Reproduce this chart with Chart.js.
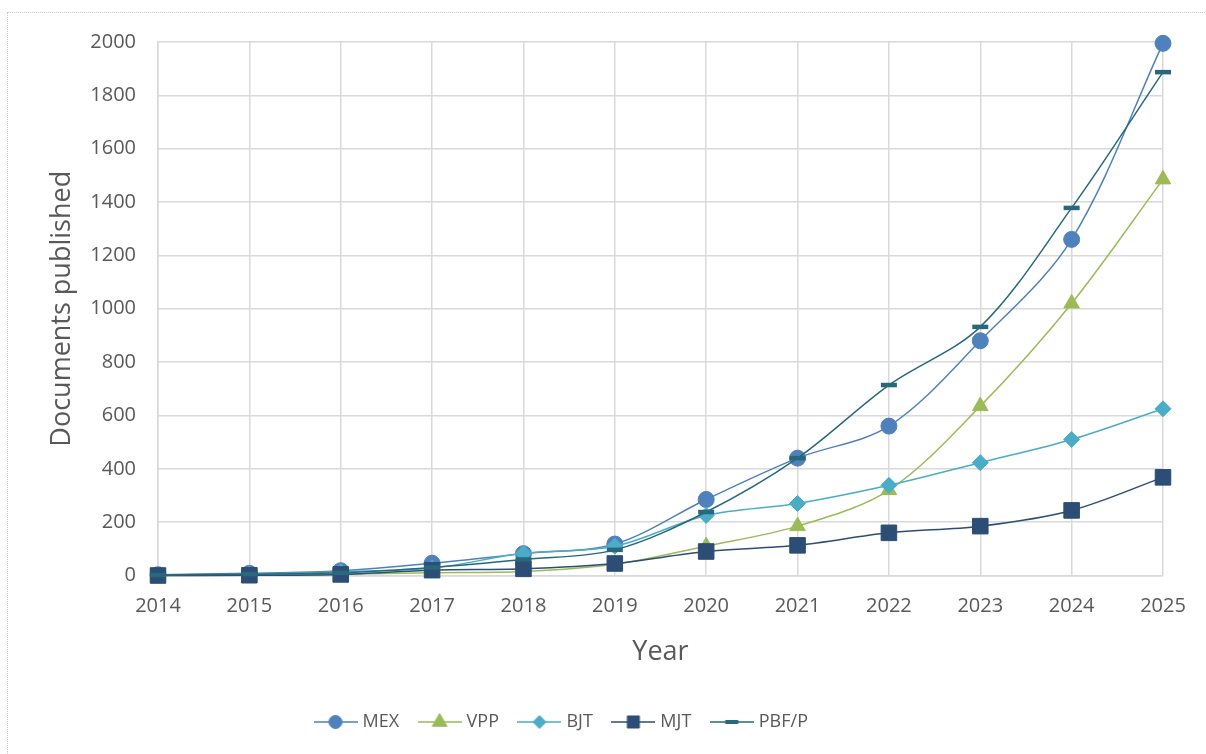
<!DOCTYPE html>
<html>
<head>
<meta charset="utf-8">
<script src="https://cdn.jsdelivr.net/npm/chart.js@4.4.1/dist/chart.umd.min.js"></script>
<style>
    html, body { margin: 0; padding: 0; background: #fff; overflow: hidden; }
    #wrap { position: relative; width: 1206px; height: 754px; }
    #frame {
        position: absolute; left: 7px; top: 12px; width: 1220px; height: 780px;
        border: 1px dotted #c9c9c9; pointer-events: none;
    }
    #chart { position: absolute; left: 0; top: 0; }
</style>
</head>
<body>
<div id="wrap">
    <div id="frame"></div>
    <canvas id="chart" width="1206" height="754"></canvas>
</div>
<script>
    const years = ['2014', '2015', '2016', '2017', '2018', '2019', '2020', '2021', '2022', '2023', '2024', '2025'];

    const mex = [3, 8, 18, 46, 82, 118, 285, 440, 560, 880, 1260, 1995];
    const vpp = [0, 2, 5, 10, 15, 42, 110, 185, 320, 635, 1020, 1485];
    const bjt = [2, 5, 14, 28, 83, 110, 225, 270, 338, 423, 510, 625];
    const mjt = [0, 1, 4, 20, 25, 45, 90, 113, 160, 185, 244, 368];
    const pbf = [2, 5, 10, 30, 60, 96, 238, 440, 714, 932, 1378, 1887];

    const yTicks = [0, 200, 400, 600, 800, 1000, 1200, 1400, 1600, 1800, 2000];

    const textColor = '#595959';
    const gridColor = '#d9d9d9';

    Chart.defaults.font.family = "'Open Sans', 'Noto Sans', sans-serif";
    Chart.defaults.color = textColor;

    // series look: colour, marker shape, marker size (chart / legend)
    const series = [
        { label: 'MEX', data: mex, color: '#4f81bd', style: 'circle', r: 8, lr: 6.5, bw: 1, order: 5 },
        { label: 'VPP', data: vpp, color: '#9bbb59', style: 'triangle', r: 9, lr: 8.5, bw: 1, order: 4 },
        { label: 'BJT', data: bjt, color: '#4bacc6', style: 'rectRot', r: 8, lr: 6.5, bw: 1, order: 3 },
        { label: 'MJT', data: mjt, color: '#2c4d75', style: 'rect', r: 11, lr: 8.5, bw: 1, order: 2 },
        { label: 'PBF/P', data: pbf, color: '#27697a', style: 'line', r: 8, lr: 6.5, bw: 4.5, order: 1 }
    ];

    // small legend swatch: line through the marker
    function legendIcon(s) {
        const c = document.createElement('canvas');
        c.width = 44;
        c.height = 18;
        const ctx = c.getContext('2d');
        ctx.strokeStyle = s.color;
        ctx.lineWidth = 1.5;
        ctx.beginPath();
        ctx.moveTo(0, 9);
        ctx.lineTo(44, 9);
        ctx.stroke();
        ctx.fillStyle = s.color;
        ctx.lineWidth = s.style === 'line' ? 4 : 1;
        Chart.helpers.drawPoint(ctx, { pointStyle: s.style, radius: s.lr, borderWidth: ctx.lineWidth, rotation: 0 }, 22, 9);
        return c;
    }

    const icons = series.map(legendIcon);

    // push the legend row to where it sits under the plot
    const legendShift = {
        id: 'legendShift',
        afterLayout(chart) {
            if (chart.legend) {
                const w = chart.legend.right - chart.legend.left;
                chart.legend.left = 295;
                chart.legend.right = 295 + w;
                chart.legend.top += 2;
                chart.legend.bottom += 2;
            }
        }
    };

    new Chart(document.getElementById('chart'), {
        type: 'line',
        data: {
            labels: years,
            datasets: series.map(s => ({
                label: s.label,
                data: s.data,
                borderColor: s.color,
                backgroundColor: s.color,
                borderWidth: 1.5,
                tension: 0.33,
                pointStyle: s.style,
                pointRadius: s.r,
                pointHoverRadius: s.r,
                pointBorderWidth: s.bw,
                pointBackgroundColor: s.color,
                pointBorderColor: s.color,
                order: s.order,
                clip: false
            }))
        },
        options: {
            responsive: false,
            animation: false,
            layout: { padding: { top: 42, right: 43, bottom: 15, left: 0 } },
            plugins: {
                tooltip: { enabled: false },
                legend: {
                    position: 'bottom',
                    align: 'start',
                    labels: {
                        usePointStyle: true,
                        pointStyleWidth: 36,
                        padding: 22.5,
                        color: textColor,
                        font: { size: 18 },
                        generateLabels(chart) {
                            return chart.data.datasets.map((ds, i) => ({
                                text: ds.label,
                                pointStyle: icons[i],
                                fillStyle: ds.borderColor,
                                strokeStyle: ds.borderColor,
                                lineWidth: 0,
                                fontColor: textColor,
                                hidden: false,
                                datasetIndex: i
                            }));
                        }
                    }
                }
            },
            scales: {
                x: {
                    type: 'category',
                    offset: false,
                    grid: { color: gridColor, lineWidth: 1.5, drawTicks: false },
                    border: { color: gridColor, width: 1.5 },
                    ticks: { padding: 19, maxRotation: 0, autoSkip: false, font: { size: 20 }, color: textColor },
                    title: { display: true, text: 'Year', font: { size: 27 }, color: textColor, padding: { top: 0, bottom: 20 } },
                    afterFit(scale) { scale.height = 113; }
                },
                y: {
                    min: 0,
                    max: 2000,
                    afterBuildTicks(scale) { scale.ticks = yTicks.map(v => ({ value: v })); },
                    grid: { color: gridColor, lineWidth: 1.5, drawTicks: false },
                    border: { color: gridColor, width: 1.5 },
                    ticks: { padding: 22, font: { size: 20 }, color: textColor, callback: v => String(v) },
                    title: { display: true, text: 'Documents published', font: { size: 27 }, color: textColor, padding: { top: 46, bottom: 0 } },
                    afterFit(scale) { scale.width = 158; }
                }
            }
        },
        plugins: [legendShift]
    });
</script>
</body>
</html>
